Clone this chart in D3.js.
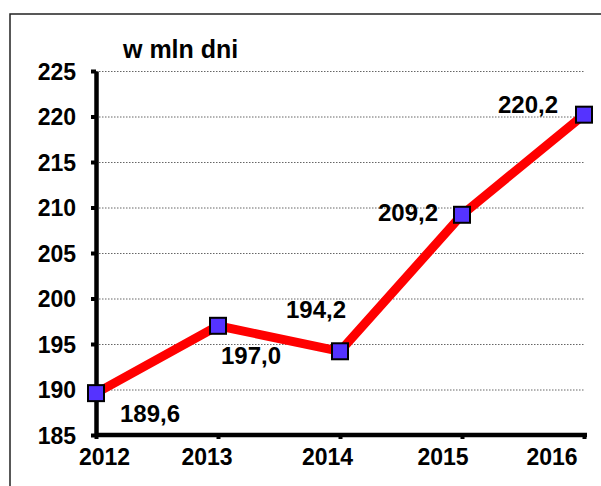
<!DOCTYPE html>
<html>
<head>
<meta charset="utf-8">
<script src="https://cdn.jsdelivr.net/npm/d3@7"></script>
<style>
  body { margin: 0; background: #fff; }
  svg text { font-family: "Liberation Sans", Arial, sans-serif; font-weight: bold; fill: #000; }
</style>
</head>
<body>
<div id="chart"></div>
<script>
const years = ["2012", "2013", "2014", "2015", "2016"];
const values = [189.6, 197.0, 194.2, 209.2, 220.2];
const valueLabels = ["189,6", "197,0", "194,2", "209,2", "220,2"];
const yTicks = [185, 190, 195, 200, 205, 210, 215, 220, 225];
const unitLabel = "w mln dni";

// label placement relative to each point
const labelDx = [54, 33, -24, -54, -56];
const labelDy = [29, 38, -33, 6, -2];
// shift of year labels relative to their ticks
const yearDx = [8, -11.5, -13, -19.5, -32.5];

const width = 601;
const height = 486;

const svg = d3
  .select("#chart")
  .append("svg")
  .attr("width", width)
  .attr("height", height);

// frame
svg
  .append("rect")
  .attr("x", 10)
  .attr("y", 14)
  .attr("width", 650)
  .attr("height", 520)
  .attr("fill", "none")
  .attr("stroke", "#222")
  .attr("stroke-width", 1.5);

const x = d3.scalePoint().domain(years).range([96, 584]);
const y = d3.scaleLinear().domain([185, 225]).range([435, 71]);

// gridlines
svg
  .append("g")
  .selectAll("line")
  .data(yTicks.filter((d) => d !== 185))
  .enter()
  .append("line")
  .attr("x1", 96)
  .attr("x2", 584)
  .attr("y1", (d) => y(d) + 0.5)
  .attr("y2", (d) => y(d) + 0.5)
  .attr("stroke", "#666")
  .attr("stroke-width", 1)
  .attr("stroke-dasharray", "1.5,1.5");

// y axis
const yAxis = svg
  .append("g")
  .attr("transform", "translate(96,0)")
  .call(d3.axisLeft(y).tickValues(yTicks).tickSize(5).tickSizeOuter(0).tickPadding(15).tickFormat(d3.format("d")));

yAxis.select(".domain").attr("stroke", "#000").attr("stroke-width", 4.5);
yAxis.selectAll(".tick line").attr("stroke", "#000").attr("stroke-width", 4);
yAxis
  .selectAll(".tick text")
  .attr("font-size", 23)
  .attr("dy", "0.36em");

// x axis
const xAxis = svg
  .append("g")
  .attr("transform", "translate(0,435)")
  .call(d3.axisBottom(x).tickSize(4).tickSizeOuter(0));

xAxis.select(".domain").attr("stroke", "#000").attr("stroke-width", 4.5).attr("d", "M96,0H587");
xAxis.selectAll(".tick line").attr("stroke", "#000").attr("stroke-width", 4);
xAxis
  .selectAll(".tick text")
  .attr("font-size", 23)
  .attr("y", 30)
  .attr("dy", 0)
  .attr("dx", (d, i) => yearDx[i]);

// unit label
svg
  .append("text")
  .attr("x", 123)
  .attr("y", 58)
  .attr("font-size", 25)
  .text(unitLabel);

// series line
const line = d3
  .line()
  .x((d, i) => x(years[i]))
  .y((d) => y(d));

svg
  .append("path")
  .datum(values)
  .attr("d", line)
  .attr("fill", "none")
  .attr("stroke", "#ff0000")
  .attr("stroke-width", 9)
  .attr("stroke-linejoin", "miter");

// markers
svg
  .append("g")
  .selectAll("rect")
  .data(values)
  .enter()
  .append("rect")
  .attr("x", (d, i) => x(years[i]) - 8)
  .attr("y", (d) => y(d) - 8)
  .attr("width", 16)
  .attr("height", 16)
  .attr("fill", "#5533ff")
  .attr("stroke", "#000")
  .attr("stroke-width", 2);

// value labels
svg
  .append("g")
  .selectAll("text")
  .data(values)
  .enter()
  .append("text")
  .attr("x", (d, i) => x(years[i]) + labelDx[i])
  .attr("y", (d, i) => y(d) + labelDy[i])
  .attr("text-anchor", "middle")
  .attr("font-size", 24)
  .text((d, i) => valueLabels[i]);
</script>
</body>
</html>
